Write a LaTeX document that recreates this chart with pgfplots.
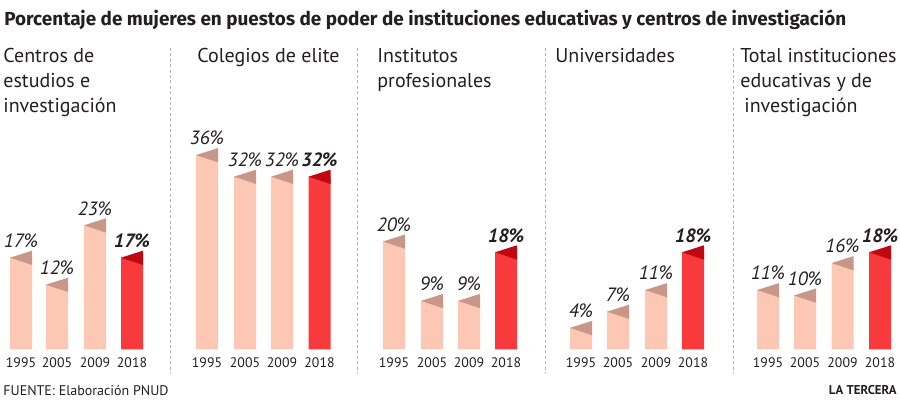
\documentclass[border=0pt]{standalone}
\usepackage{fontspec}
\setmainfont{PT Sans}
\newfontfamily\titlefont{Fira Sans}
\usepackage{pgfplots}
\usepackage{pgfplotstable}
\pgfplotsset{compat=1.18}

\definecolor{txt}{HTML}{231F20}
\definecolor{barlight}{HTML}{FCC8B4}
\definecolor{foldlight}{HTML}{C9978A}
\definecolor{barred}{HTML}{F83A3C}
\definecolor{foldred}{HTML}{C00810}
\definecolor{sep}{HTML}{B4B4B4}

% folded corner on top of each bar
\pgfdeclareplotmark{fold}{%
  \pgfpathmoveto{\pgfqpoint{-5.5pt}{0pt}}%
  \pgfpathlineto{\pgfqpoint{5.5pt}{3.5pt}}%
  \pgfpathlineto{\pgfqpoint{5.5pt}{-3.65pt}}%
  \pgfpathclose\pgfusepathqfill}

% x = bar centre (px), v = percentage
\pgfplotstableread{
x     v
21    17
57    12
95    23
207   36
245   32
282   32
394   20
432   9
469   9
581   4
618   7
656   11
768   11
805   10
842.5 16
}\older

\pgfplotstableread{
x     v
132   17
319.5 32
506   18
693   18
880   18
}\latest

% text at pixel position (x from left, baseline from top)
\newcommand\T[3]{\node[anchor=base west,inner sep=0pt,text=txt] at ({#1*0.5pt},{(400-#2)*0.5pt}) {#3};}

\begin{document}
\begin{tikzpicture}
\begin{axis}[
    scale only axis,
    width=450pt, height=200pt,
    xmin=0, xmax=900,
    ymin=-9.352, ymax=64.72,
    clip=false,
    axis line style={draw=none},
    tick style={draw=none},
    ytick=\empty,
    xtick={21,57,95,132,207,245,282,319.5,394,432,469,506,581,618,656,693,768,805,842.5,880},
    xticklabels={1995,2005,2009,2018,1995,2005,2009,2018,1995,2005,2009,2018,1995,2005,2009,2018,1995,2005,2009,2018},
    xticklabel style={anchor=base, yshift=16pt, inner sep=0pt, text=txt,
        font=\fontsize{6.9}{7}\selectfont},
    bar width=11pt,
    point meta=y,
    /pgf/number format/assume math mode=true,
    nodes near coords={\pgfmathprintnumber[fixed,precision=0,assume math mode=true]{\pgfplotspointmeta}\%},
]
\path (rel axis cs:0,0) rectangle (rel axis cs:1,1);

\addplot[ybar, bar shift=0pt, fill=barlight, draw=none,
    every node near coord/.append style={anchor=south, inner sep=0pt, yshift=4.75pt,
        text=txt, font=\itshape\fontsize{9.6}{10}\selectfont}]
    table[x=x, y=v] {\older};
\addplot[ybar, bar shift=0pt, fill=barred, draw=none,
    every node near coord/.append style={anchor=south, inner sep=0pt, yshift=4.75pt,
        text=txt, font=\bfseries\itshape\fontsize{9.6}{10}\selectfont}]
    table[x=x, y=v] {\latest};

\addplot[only marks, mark=fold, color=foldlight, nodes near coords={}]
    table[x=x, y=v] {\older};
\addplot[only marks, mark=fold, color=foldred, nodes near coords={}]
    table[x=x, y=v] {\latest};
\end{axis}

% panel separators
\foreach \s in {170,357,545,733}
  \draw[sep, line width=0.4pt, dash pattern=on 1.5pt off 1.2pt]
    ({\s*0.5pt},{(400-48)*0.5pt}) -- ({\s*0.5pt},{(400-373)*0.5pt});

% title
\T{4}{26}{\titlefont\fontsize{9.45}{10}\selectfont\bfseries Porcentaje de mujeres en puestos de poder de instituciones educativas y centros de investigación}

% panel headings
\begin{scope}[font=\fontsize{10}{12}\selectfont]
\T{3}{63}{Centros de}
\T{3}{88}{estudios e}
\T{3}{113}{investigación}
\T{197}{63}{Colegios de elite}
\T{377}{63}{Institutos}
\T{377}{88}{profesionales}
\T{555}{63}{Universidades}
\T{740}{63}{Total instituciones}
\T{740}{88}{educativas y de}
\T{744}{113}{investigación}
\end{scope}

% footer
\T{3}{396}{\fontsize{7}{8}\selectfont FUENTE: Elaboración PNUD}
\node[anchor=base east, inner sep=0pt, text=txt] at ({897*0.5pt},{(400-395)*0.5pt})
  {\fontsize{6.4}{7}\selectfont\bfseries LA TERCERA};
\end{tikzpicture}
\end{document}
